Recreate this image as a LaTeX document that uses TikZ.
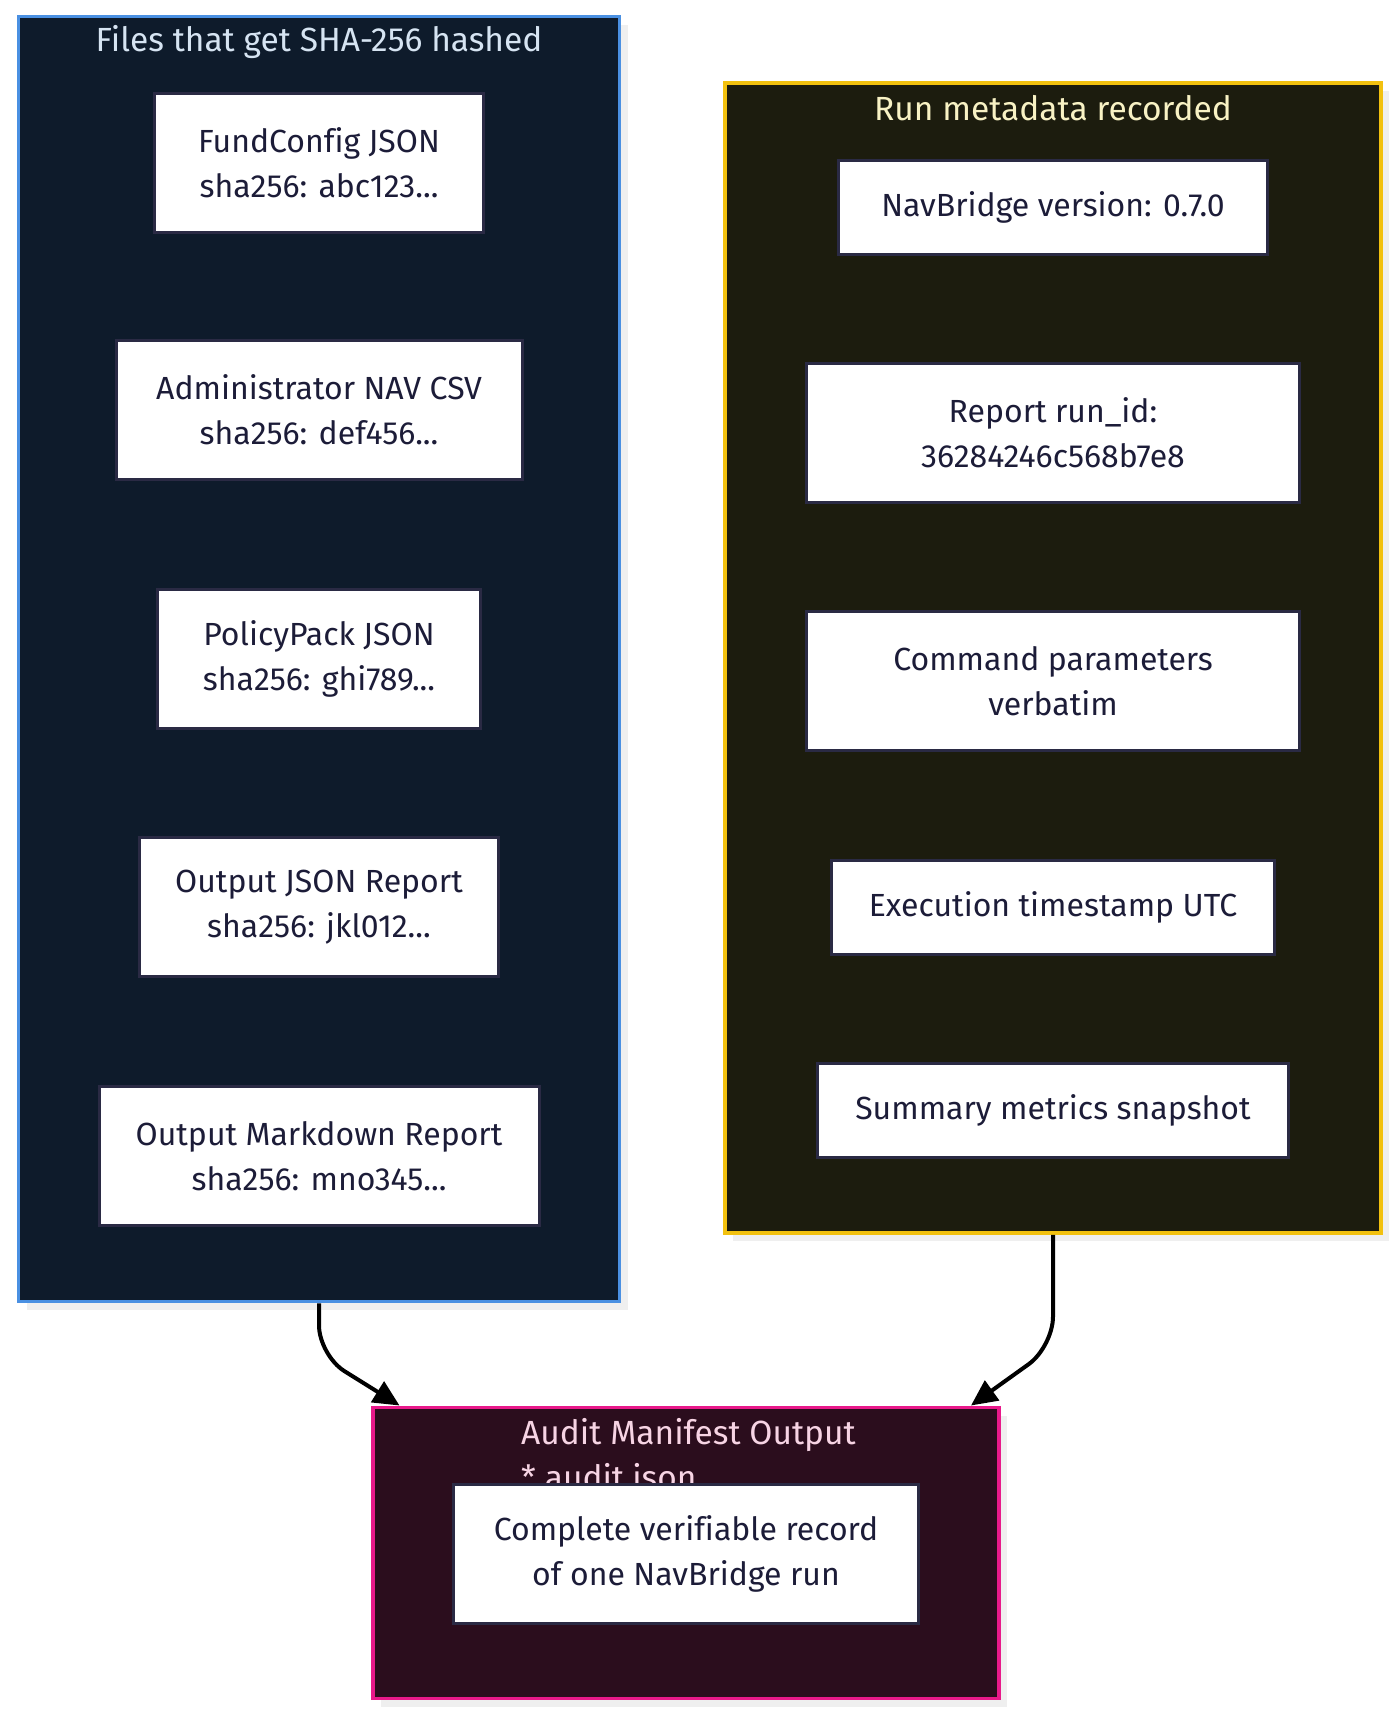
\documentclass[tikz,border=0pt]{standalone}
\usepackage{fontspec}
\setmainfont{Fira Sans}[Ligatures=NoCommon]
\usetikzlibrary{arrows.meta}

\definecolor{filesfill}{HTML}{0E1B2B}
\definecolor{filesline}{HTML}{4A90E2}
\definecolor{filestext}{HTML}{D6E4F2}
\definecolor{metafill}{HTML}{1C1C0E}
\definecolor{metaline}{HTML}{F2C10F}
\definecolor{metatext}{HTML}{F8F2C4}
\definecolor{auditfill}{HTML}{2B0D1D}
\definecolor{auditline}{HTML}{E8198A}
\definecolor{audittext}{HTML}{F7D4E4}
\definecolor{boxline}{HTML}{2A2A44}
\definecolor{boxtext}{HTML}{1C1C38}
\definecolor{shade}{HTML}{EFEFEF}

\tikzset{
  box/.style={draw=boxline, line width=3pt, fill=white, text=boxtext, align=center,
    minimum height=139pt, inner sep=0pt, font=\fontsize{32}{45}\selectfont},
  cluster/.style={line width=3.5pt, inner sep=0pt},
  shadow/.style={fill=shade, inner sep=0pt},
  ctitle/.style={inner sep=0pt, font=\fontsize{33.5}{45}\selectfont},
  flow/.style={-{Triangle[length=26pt,width=24pt]}, line width=4pt, rounded corners=30pt},
}

\begin{document}
\begin{tikzpicture}[x=1pt, y=-1pt]
  \useasboundingbox[fill=white] (0,0) rectangle (1400,1716);

  % clusters
  \node[shadow, minimum width=601pt, minimum height=1285pt] at (327,667) {};
  \node[cluster, draw=filesline, fill=filesfill, minimum width=601pt, minimum height=1285pt] (files) at (319,659) {};
  \node[shadow, minimum width=656pt, minimum height=1150pt] at (1061,666) {};
  \node[cluster, draw=metaline, fill=metafill, minimum width=656pt, minimum height=1150pt] (meta) at (1053,658) {};
  \node[shadow, minimum width=626pt, minimum height=291pt] at (694,1561) {};
  \node[cluster, draw=auditline, fill=auditfill, minimum width=626pt, minimum height=291pt] (audit) at (686,1553) {};

  \node[ctitle, text=filestext] (filesttl) at (319,42) {Files that get SHA-256 hashed};
  \node[ctitle, text=metatext] (metattl) at (1053,108) {Run metadata recorded};
  \node[ctitle, text=audittext, anchor=north west, align=left] (auditttl) at (521,1418) {Audit Manifest Output\\* audit.json};

  % left column
  \node[box, minimum width=329pt] (fundcfg) at (319,163) {FundConfig JSON\\sha256: abc123...};
  \node[box, minimum width=406pt] (navcsv) at (319,410) {Administrator NAV CSV\\sha256: def456...};
  \node[box, minimum width=323pt] (policy) at (319,659) {PolicyPack JSON\\sha256: ghi789...};
  \node[box, minimum width=359pt] (jsonrep) at (319,907) {Output JSON Report\\sha256: jkl012...};
  \node[box, minimum width=440pt] (mdrep) at (319,1156) {Output Markdown Report\\sha256: mno345...};

  % right column
  \node[box, minimum width=429pt, minimum height=94pt] (version) at (1053,207) {NavBridge version: 0.7.0};
  \node[box, minimum width=493pt] (runid) at (1053,433) {Report run\_id:\\36284246c568b7e8};
  \node[box, minimum width=493pt] (params) at (1053,681) {Command parameters\\verbatim};
  \node[box, minimum width=443pt, minimum height=94pt] (stamp) at (1053,907) {Execution timestamp UTC};
  \node[box, minimum width=471pt, minimum height=94pt] (metrics) at (1053,1110) {Summary metrics snapshot};

  % output
  \node[box, minimum width=465pt] (record) at (686,1554) {Complete verifiable record\\of one NavBridge run};

  \coordinate (inL) at (399.5,1405.5);
  \coordinate (inR) at (971,1405.5);
  \draw[flow] (files.south) -- ++(0,52) -- (inL); % files to manifest
  \draw[flow] (meta.south) -- ++(0,112) -- (inR); % metadata to manifest
\end{tikzpicture}
\end{document}
